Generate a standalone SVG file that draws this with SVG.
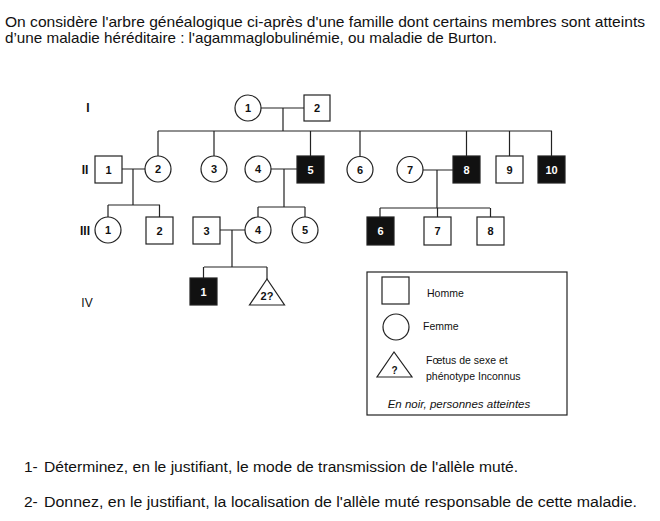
<svg xmlns="http://www.w3.org/2000/svg" width="660" height="521" viewBox="0 0 660 521">
<style>
text{font-family:"Liberation Sans",Arial,sans-serif;fill:#111}
.hd{font-size:15px}
.q{font-size:15.5px}
.gen{font-size:12px;text-anchor:middle;font-weight:bold}
.n{font-size:11px;font-weight:bold;text-anchor:middle}
.w{fill:#fff}
.sh{fill:#fff;stroke:#222;stroke-width:1.2}
.af{fill:#111;stroke:#222;stroke-width:1.2}
.ln{fill:none;stroke:#222;stroke-width:1.2}
.lg{font-size:10.5px}
</style>
<rect width="660" height="521" fill="#fff"/>
<text class="hd" x="5" y="27" textLength="640" lengthAdjust="spacingAndGlyphs">On considère l'arbre généalogique ci-après d'une famille dont certains membres sont atteints</text>
<text class="hd" x="5" y="43" textLength="492" lengthAdjust="spacingAndGlyphs">d’une maladie héréditaire : l'agammaglobulinémie, ou maladie de Burton.</text>

<g id="generations">
<text class="gen" x="88" y="112">I</text>
<text class="gen" x="85" y="174">II</text>
<text class="gen" x="85" y="235">III</text>
<text class="gen" x="87" y="307" style="font-weight:normal">IV</text>
</g>

<g id="connectors" class="ln">
<path d="M261 108H304M283 108V131M158 131H552"/>
<path d="M158 131V156M214 131V156M310.5 131V156M360 131V156M466.5 131V156M509.5 131V156M551.5 131V156"/>
<path d="M122 169H145M133 169V205M108 205H160M108 205V217M159.5 205V217"/>
<path d="M271 169H297M284 169V207M258 207H305M258 207V217M305 207V217"/>
<path d="M423 170H453M437 170V208M380 208H490M380 208V217M437.5 208V217M490.5 208V217"/>
<path d="M220 230H245M232 230V267M204 267H267M203.5 267V278M267 267V279"/>
</g>

<g id="I-1"><circle class="sh" cx="248" cy="108" r="13"/><text class="n" x="248" y="112">1</text></g>
<g id="I-2"><rect class="sh" x="304" y="95" width="26" height="26"/><text class="n" x="317" y="112">2</text></g>

<g id="II-1"><rect class="sh" x="95" y="156" width="27" height="27"/><text class="n" x="108.5" y="173.5">1</text></g>
<g id="II-2"><circle class="sh" cx="158" cy="169" r="13"/><text class="n" x="158" y="173">2</text></g>
<g id="II-3"><circle class="sh" cx="214" cy="169" r="13"/><text class="n" x="214" y="173">3</text></g>
<g id="II-4"><circle class="sh" cx="258" cy="169" r="13"/><text class="n" x="258" y="173">4</text></g>
<g id="II-5"><rect class="af" x="297" y="156" width="27" height="27"/><text class="n w" x="310.5" y="173.5">5</text></g>
<g id="II-6"><circle class="sh" cx="360" cy="169.5" r="13"/><text class="n" x="360" y="173.5">6</text></g>
<g id="II-7"><circle class="sh" cx="410" cy="169.5" r="13"/><text class="n" x="410" y="173.5">7</text></g>
<g id="II-8"><rect class="af" x="453" y="156" width="27" height="27"/><text class="n w" x="466.5" y="173.5">8</text></g>
<g id="II-9"><rect class="sh" x="496" y="156" width="27" height="27"/><text class="n" x="509.5" y="173.5">9</text></g>
<g id="II-10"><rect class="af" x="538" y="156" width="27" height="27"/><text class="n w" x="551.5" y="173.5">10</text></g>

<g id="III-1"><circle class="sh" cx="108" cy="230" r="13"/><text class="n" x="108" y="234">1</text></g>
<g id="III-2"><rect class="sh" x="146" y="217" width="27" height="27"/><text class="n" x="159.5" y="234.5">2</text></g>
<g id="III-3"><rect class="sh" x="193" y="217" width="27" height="27"/><text class="n" x="206.5" y="234.5">3</text></g>
<g id="III-4"><circle class="sh" cx="258" cy="230" r="13"/><text class="n" x="258" y="234">4</text></g>
<g id="III-5"><circle class="sh" cx="305" cy="230" r="13"/><text class="n" x="305" y="234">5</text></g>
<g id="III-6"><rect class="af" x="367" y="217" width="27" height="28"/><text class="n w" x="380.5" y="235">6</text></g>
<g id="III-7"><rect class="sh" x="424" y="217" width="27" height="28"/><text class="n" x="437.5" y="235">7</text></g>
<g id="III-8"><rect class="sh" x="477" y="217" width="27" height="28"/><text class="n" x="490.5" y="235">8</text></g>

<g id="IV-1"><rect class="af" x="190" y="278" width="27" height="27"/><text class="n w" x="203.5" y="295.5">1</text></g>
<g id="IV-2"><polygon class="sh" points="267,279 249.5,305 284.5,305"/><text class="n" x="267" y="300">2?</text></g>

<g id="legend">
<rect class="sh" x="367" y="272" width="200" height="143"/>
<rect class="sh" x="382" y="277" width="27" height="27"/>
<text class="lg" x="427" y="297">Homme</text>
<circle class="sh" cx="396" cy="327" r="13"/>
<text class="lg" x="423" y="330">Femme</text>
<polygon class="sh" points="394,352 377,377 412,377"/>
<text class="n" x="394.5" y="374" style="font-size:10px">?</text>
<text class="lg" x="426" y="364">Fœtus de sexe et</text>
<text class="lg" x="426" y="380">phénotype Inconnus</text>
<text class="lg" x="459" y="408" style="font-size:11.5px;font-style:italic;text-anchor:middle">En noir, personnes atteintes</text>
</g>

<text class="q" y="472"><tspan x="24">1-</tspan><tspan x="44" textLength="474" lengthAdjust="spacingAndGlyphs">Déterminez, en le justifiant, le mode de transmission de l'allèle muté.</tspan></text>
<text class="q" y="507"><tspan x="24">2-</tspan><tspan x="44" textLength="593" lengthAdjust="spacingAndGlyphs">Donnez, en le justifiant, la localisation de l'allèle muté responsable de cette maladie.</tspan></text>
</svg>
